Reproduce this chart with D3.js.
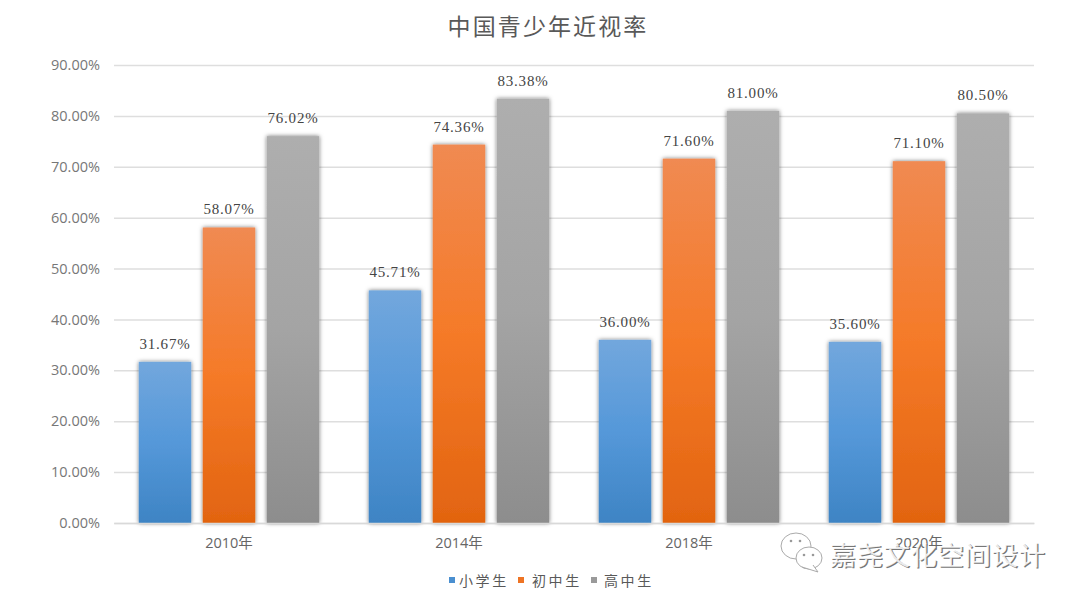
<!DOCTYPE html>
<html><head><meta charset="utf-8">
<script src="https://cdnjs.cloudflare.com/ajax/libs/d3/7.8.5/d3.min.js"></script>
<style>html,body{margin:0;background:#fff;overflow:hidden}svg{display:block}</style>
</head><body><div id="c"></div>
<script>
const categories = ["2010年","2014年","2018年","2020年"];
const seriesNames = ["小学生","初中生","高中生"];
const primary = [31.67,45.71,36.00,35.60];
const junior = [58.07,74.36,71.60,71.10];
const senior = [76.02,83.38,81.00,80.50];
const seriesValues = [primary,junior,senior];
const labels = [["31.67%","45.71%","36.00%","35.60%"],["58.07%","74.36%","71.60%","71.10%"],["76.02%","83.38%","81.00%","80.50%"]];
const yTicks = [0,10,20,30,40,50,60,70,80,90];
const gradients = [["#72a7dd","#5598d9","#3e84c4"],["#f08a52","#f57a28","#e26410"],["#aeaeae","#a4a4a4","#8d8d8d"]];
const legendColors = ["#4a8fd0","#ee7424","#9a9a9a"];

const W=1080,H=602,m={l:114,r:1034,t:65,b:523};
const svg=d3.select("#c").append("svg").attr("width",W).attr("height",H);
const defs=svg.append("defs");
gradients.forEach((g,i)=>{
  const lg=defs.append("linearGradient").attr("id","g"+i).attr("x1",0).attr("y1",0).attr("x2",0).attr("y2",1);
  g.forEach((c,j)=>lg.append("stop").attr("offset",j/2).attr("stop-color",c));
});
const sh=defs.append("filter").attr("id","sh").attr("x","-15%").attr("y","-5%").attr("width","130%").attr("height","110%");
sh.append("feDropShadow").attr("dx",0).attr("dy",0).attr("stdDeviation",2).attr("flood-color","#000").attr("flood-opacity",0.55);

const y=d3.scaleLinear().domain([0,90]).range([m.b,m.t]);
const x0=d3.scaleBand().domain(categories).range([m.l,m.r]);
const x1=d3.scaleBand().domain(seriesNames).range([0,x0.bandwidth()]).paddingInner(0.18).paddingOuter(0.387);

const sans="'Open Sans','Noto Sans CJK SC',sans-serif";
const cjk="'Noto Sans CJK SC',sans-serif";

const yAxis=d3.axisLeft(y).tickValues(yTicks).tickSize(m.l-m.r).tickPadding(14).tickFormat(d=>d.toFixed(2)+"%");
const gy=svg.append("g").attr("transform",`translate(${m.l},0)`).call(yAxis);
gy.select(".domain").remove();
gy.selectAll(".tick line").attr("stroke","#dedede").attr("stroke-width",1.5);
gy.selectAll(".tick text").attr("fill","#777").attr("font-size",14.5).attr("font-family",sans);

seriesNames.forEach((s,i)=>{
  const g=svg.append("g");
  g.selectAll("rect").data(seriesValues[i]).join("rect")
    .attr("x",(d,k)=>x0(categories[k])+x1(s))
    .attr("y",d=>y(d))
    .attr("width",x1.bandwidth())
    .attr("height",d=>y(0)-y(d))
    .attr("fill",`url(#g${i})`)
    .attr("filter","url(#sh)");
  g.selectAll("text").data(seriesValues[i]).join("text")
    .attr("x",(d,k)=>x0(categories[k])+x1(s)+x1.bandwidth()/2)
    .attr("y",d=>y(d)-13)
    .attr("text-anchor","middle")
    .attr("font-family","'Liberation Serif',serif")
    .attr("font-size",15)
    .attr("letter-spacing",0.8)
    .attr("fill","#444")
    .text((d,k)=>labels[i][k]);
});

const xAxis=d3.axisBottom(x0).tickSize(0).tickPadding(15);
const gx=svg.append("g").attr("transform",`translate(0,${m.b})`).call(xAxis);
gx.select(".domain").attr("stroke","#d9d9d9").attr("stroke-width",1.5);
gx.selectAll(".tick text").attr("fill","#666").attr("font-size",14.5).attr("font-family",sans);

svg.append("text").attr("x",548).attr("y",35).attr("text-anchor","middle")
  .attr("font-family",cjk).attr("font-size",23).attr("letter-spacing",2.1).attr("fill","#595959").text("中国青少年近视率");

const squareX=[448,517,590];
const legendTextX=[459,532,604];
seriesNames.forEach((s,i)=>{
  svg.append("rect").attr("x",squareX[i]+1).attr("y",577).attr("width",6).attr("height",6).attr("fill",legendColors[i]);
  svg.append("text").attr("x",legendTextX[i]).attr("y",586).attr("font-family",cjk).attr("font-size",14).attr("letter-spacing",2.6).attr("fill","#595959").text(s);
});

const wm=svg.append("g");
wm.append("text").attr("x",830.7).attr("y",565.7).attr("font-family",cjk).attr("font-size",26.5).attr("letter-spacing",0.5)
  .attr("fill","#777").text("嘉尧文化空间设计");
wm.append("text").attr("x",829.5).attr("y",564.5).attr("font-family",cjk).attr("font-size",26.5).attr("letter-spacing",0.5)
  .attr("fill","#fff").attr("fill-opacity",0.85).text("嘉尧文化空间设计");
const ic=wm.append("g").attr("fill","#fff").attr("stroke","#aaa").attr("stroke-width",1);
ic.append("ellipse").attr("cx",796).attr("cy",546).attr("rx",15).attr("ry",13);
ic.append("ellipse").attr("cx",809).attr("cy",558).attr("rx",13).attr("ry",11);
ic.append("path").attr("d","M802 567 L818 572 L813 565");
[[791,541],[800,541],[804,555],[813,555]].forEach(p=>wm.append("circle").attr("cx",p[0]).attr("cy",p[1]).attr("r",1.3).attr("fill","#999"));
</script></body></html>
